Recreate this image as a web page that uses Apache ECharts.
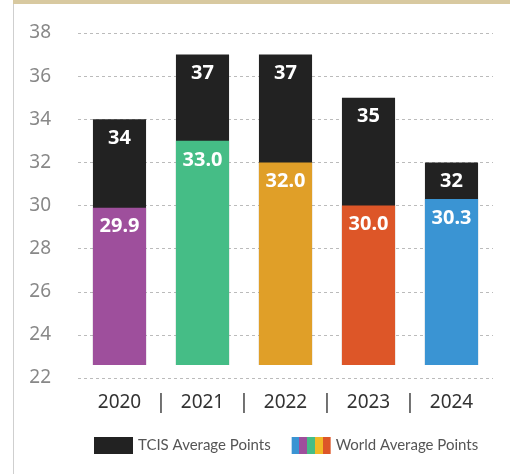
<!DOCTYPE html>
<html>
<head>
<meta charset="utf-8">
<script src="https://cdn.jsdelivr.net/npm/echarts@6/dist/echarts.min.js"></script>
<style>
  html, body { margin: 0; padding: 0; background: #fff; }
  #frame {
    position: relative;
    width: 510px;
    height: 474px;
    overflow: hidden;
    background: #fff;
  }
  #frame::before {
    content: '';
    position: absolute;
    left: 13px; top: 0; right: 0; height: 4px;
    background: #d8c9a0;
  }
  #frame::after {
    content: '';
    position: absolute;
    left: 13px; top: 4px; bottom: 0; width: 1px;
    background: #cfcfcf;
  }
  #chart { position: absolute; left: 0; top: 0; width: 510px; height: 474px; }
</style>
</head>
<body>
<div id="frame"><div id="chart"></div></div>
<script>
const years = ['2020', '2021', '2022', '2023', '2024']
const tcisPoints = [34, 37, 37, 35, 32]
const worldPoints = [29.9, 33.0, 32.0, 30.0, 30.3]
const worldColors = ['#9e4f9c', '#45bd86', '#e09f28', '#dd5628', '#3a94d3']
const legendStripes = ['#3a94d3', '#9e4f9c', '#45bd86', '#f2b826', '#dd5628']
const yTicks = { min: 22, max: 38, interval: 2 }
const separators = ['', '|', '|', '|', '|', '']
// bars in the source begin a little above the 22 line
const barBase = 22.6

const chart = echarts.init(document.getElementById('chart'))

const stripeStops = []
legendStripes.forEach((c, i) => {
  stripeStops.push({ offset: i / legendStripes.length, color: c })
  stripeStops.push({ offset: (i + 1) / legendStripes.length, color: c })
})

const labelStyle = {
  show: true,
  position: 'insideTop',
  distance: 9,
  color: '#fff',
  fontSize: 20,
  fontWeight: 'bold',
  fontFamily: 'Noto Sans',
}

chart.setOption({
  animation: false,
  textStyle: { fontFamily: 'Noto Sans' },
  grid: { left: 78, right: 17, top: 33, bottom: 96 },
  legend: {
    left: 89,
    bottom: 15,
    itemWidth: 39,
    itemHeight: 17,
    itemGap: 21,
    textStyle: { color: '#555', fontSize: 15, fontFamily: 'Lato' },
    data: [
      { name: 'TCIS Average Points', icon: 'rect', itemStyle: { color: '#222' } },
      {
        name: 'World Average Points',
        icon: 'rect',
        itemStyle: {
          color: new echarts.graphic.LinearGradient(0, 0, 1, 0, stripeStops),
        },
      },
    ],
  },
  xAxis: [
    {
      type: 'category',
      data: years,
      axisLine: { show: false },
      axisTick: { show: false },
      axisLabel: { color: '#333', fontSize: 19, margin: 15 },
    },
    {
      type: 'category',
      position: 'bottom',
      boundaryGap: false,
      data: separators,
      axisLine: { show: false },
      axisTick: { show: false },
      axisLabel: { color: '#333', fontSize: 19, margin: 15, interval: 0 },
    },
  ],
  yAxis: {
    type: 'value',
    min: yTicks.min,
    max: yTicks.max,
    interval: yTicks.interval,
    axisLine: { show: false },
    axisTick: { show: false },
    axisLabel: { color: '#888', fontSize: 19, margin: 27 },
    splitLine: { lineStyle: { color: '#bbb', type: [3, 3], width: 1 } },
  },
  series: [
    {
      type: 'bar',
      stack: 'tcis',
      barWidth: '64%',
      barGap: '-100%',
      silent: true,
      itemStyle: { color: 'transparent' },
      data: tcisPoints.map(() => barBase),
    },
    {
      name: 'TCIS Average Points',
      type: 'bar',
      stack: 'tcis',
      barWidth: '64%',
      barGap: '-100%',
      itemStyle: { color: '#222' },
      label: { ...labelStyle, formatter: (p) => String(tcisPoints[p.dataIndex]) },
      data: tcisPoints.map((v) => v - barBase),
    },
    {
      type: 'bar',
      stack: 'world',
      barWidth: '64%',
      barGap: '-100%',
      silent: true,
      itemStyle: { color: 'transparent' },
      data: worldPoints.map(() => barBase),
    },
    {
      name: 'World Average Points',
      type: 'bar',
      stack: 'world',
      barWidth: '64%',
      barGap: '-100%',
      label: { ...labelStyle, formatter: (p) => worldPoints[p.dataIndex].toFixed(1) },
      data: worldPoints.map((v, i) => ({
        value: v - barBase,
        itemStyle: { color: worldColors[i] },
      })),
    },
  ],
})
</script>
</body>
</html>
